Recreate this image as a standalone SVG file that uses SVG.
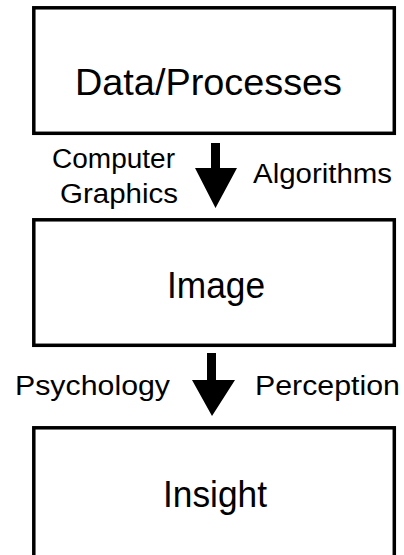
<svg xmlns="http://www.w3.org/2000/svg" width="404" height="555" viewBox="0 0 404 555">
<style>
.box{fill:#fff;stroke:#000;stroke-width:3.5}
.big{font-family:"Liberation Sans",Arial,sans-serif;font-size:37px;fill:#000}
.lab{font-family:"Liberation Sans",Arial,sans-serif;font-size:27px;fill:#000}
.arr{fill:#000}
</style>
<rect x="0" y="0" width="404" height="555" fill="#fff"/>
<g id="node-data">
<rect class="box" x="33.8" y="7.8" width="360.5" height="125.5"/>
<text class="big" x="75" y="95" textLength="267" lengthAdjust="spacingAndGlyphs">Data/Processes</text>
</g>
<g id="node-image">
<rect class="box" x="33.8" y="219.8" width="360.5" height="125.5"/>
<text class="big" x="167" y="298" textLength="98" lengthAdjust="spacingAndGlyphs">Image</text>
</g>
<g id="node-insight">
<rect class="box" x="33.8" y="427.8" width="360.5" height="140"/>
<text class="big" x="163" y="507" textLength="104" lengthAdjust="spacingAndGlyphs">Insight</text>
</g>
<g id="connectors">
<polygon class="arr" points="211,143 220,143 220,168 237,168 215.5,208 195,168 211,168"/>
<polygon class="arr" points="207,353 216,353 216,380 235,380 212,416 192,380 207,380"/>
<text class="lab" x="52" y="168" textLength="123" lengthAdjust="spacingAndGlyphs">Computer</text>
<text class="lab" x="60" y="203" textLength="118" lengthAdjust="spacingAndGlyphs">Graphics</text>
<text class="lab" x="253" y="183" textLength="139" lengthAdjust="spacingAndGlyphs">Algorithms</text>
<text class="lab" x="15" y="395" textLength="155" lengthAdjust="spacingAndGlyphs">Psychology</text>
<text class="lab" x="255" y="395" textLength="145" lengthAdjust="spacingAndGlyphs">Perception</text>
</g>
</svg>
